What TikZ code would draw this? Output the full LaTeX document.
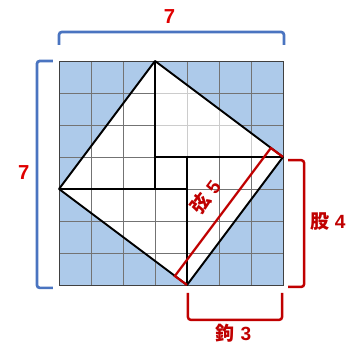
\documentclass[tikz,border=0pt]{standalone}
\usepackage{fontspec}
\usetikzlibrary{calc}
\setmainfont{Liberation Sans}
\newfontfamily\cjk{Noto Sans CJK JP}
\definecolor{cellblue}{HTML}{ADCAEA}
\definecolor{braceblue}{HTML}{4A74C0}
\definecolor{darkred}{HTML}{C00000}
\definecolor{brightred}{HTML}{E00000}
\tikzset{
  gridline/.style={draw=black!55, line width=0.6pt},
  lightgrid/.style={draw=black!20, line width=0.6pt},
  heavy/.style={draw=black, line width=1.7pt, line join=round},
  bluebrace/.style={draw=braceblue, line width=2.4pt, rounded corners=2.5pt},
  redbrace/.style={draw=darkred, line width=2.2pt, rounded corners=2.5pt},
  hypbrace/.style={draw=darkred, line width=2pt},
  sevenlbl/.style={text=brightred, font=\fontsize{18}{20}\selectfont\bfseries},
  redlbl/.style={text=darkred, font=\fontsize{17}{20}\selectfont\bfseries, inner sep=1pt},
}
\begin{document}
\begin{tikzpicture}
\useasboundingbox (-1.844,-1.875) rectangle (9.156,8.906);
% vertices
\coordinate (L) at (0,3);
\coordinate (T) at (3,7);
\coordinate (R) at (7,4);
\coordinate (B) at (4,0);
\coordinate (C1) at (3,3);
\coordinate (C2) at (3,4);
\coordinate (C3) at (4,4);
\coordinate (C4) at (4,3);
% background
\fill[cellblue] (0,0) rectangle (7,7);
\fill[white] (L) -- (T) -- (R) -- (B) -- cycle;
\draw[gridline] (0,0) grid (7,7);
\begin{scope}
  \clip (C2) -- (T) -- (R) -- cycle;
  \fill[white] (C2) -- (T) -- (R) -- cycle;
  \draw[lightgrid] (0,0) grid (7,7);
\end{scope}
\draw[draw=black!75, line width=0.8pt] (0,0) rectangle (7,7);
% heavy lines
\draw[heavy] (L) -- (T) -- (R) -- (B) -- cycle;
\draw[heavy] (T) -- (C1);
\draw[heavy] (L) -- (C4);
\draw[heavy] (C2) -- (R);
\draw[heavy] (C3) -- (B);
% hypotenuse bracket
\coordinate (Bp) at ($(B)+(-0.38,0.28)$);
\coordinate (Rp) at ($(R)+(-0.38,0.28)$);
\draw[hypbrace] (B) -- (Bp) -- (Rp) -- (R);
\node[redlbl, rotate=53.13] (hyp) at (4.58,2.76) {{\cjk 弦}\hspace{0.3em}5};
% top brace
\coordinate (tb1) at (0,7.5);
\coordinate (tb2) at (7.03,7.5);
\draw[bluebrace] (tb1) -- (0,7.906) -- (7.03,7.906) -- (tb2);
\node[sevenlbl] (top) at (3.45,8.4) {7};
% left brace
\coordinate (lb1) at (-0.19,7.0);
\coordinate (lb2) at (-0.19,-0.09);
\draw[bluebrace] (lb1) -- (-0.69,7.0) -- (-0.69,-0.09) -- (lb2);
\node[sevenlbl] (left) at (-1.1,3.5) {7};
% right bracket
\coordinate (rb1) at (7.16,3.9);
\coordinate (rb2) at (7.16,-0.06);
\draw[redbrace] (rb1) -- (7.66,3.9) -- (7.66,-0.06) -- (rb2);
\node[redlbl] (gu) at (8.4,1.97) {{\cjk 股}\hspace{0.3em}4};
% bottom bracket
\coordinate (bb1) at (4.03,-0.25);
\coordinate (bb2) at (6.97,-0.25);
\draw[redbrace] (bb1) -- (4.03,-1.09) -- (6.97,-1.09) -- (bb2);
\node[redlbl] (gou) at (5.45,-1.5) {{\cjk 鉤}\hspace{0.3em}3};
\end{tikzpicture}
\end{document}
